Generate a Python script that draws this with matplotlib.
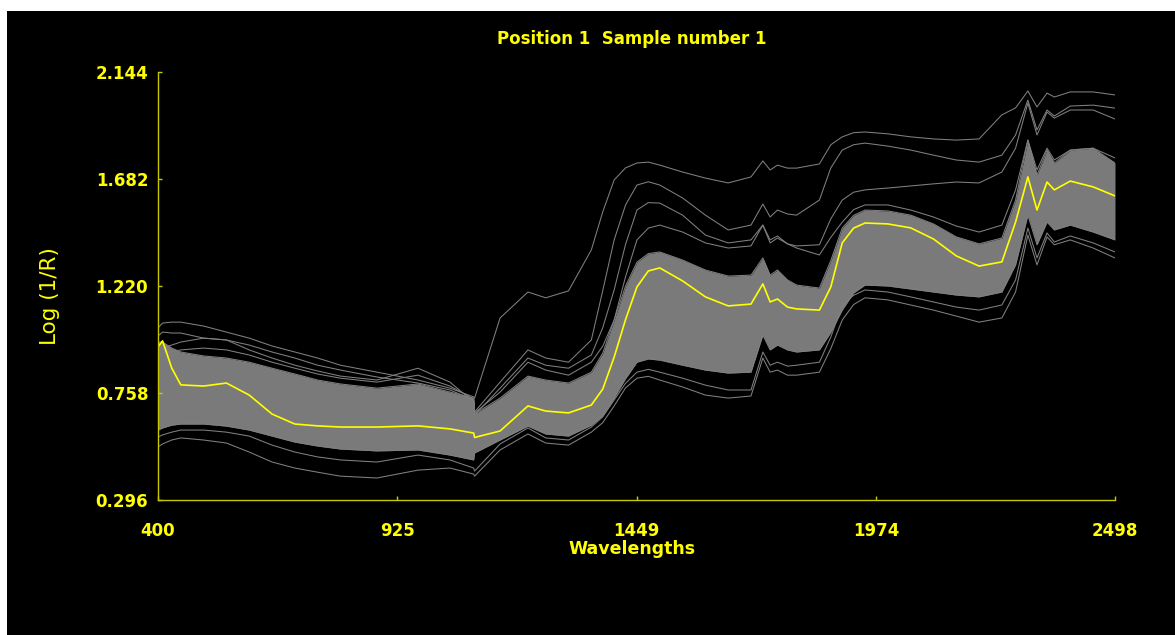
import numpy as np
import matplotlib
matplotlib.use("Agg")
import matplotlib.pyplot as plt
from matplotlib.patches import Rectangle

# wavelength grid (nm); the detector changes near 1093 nm, hence the 1092/1094 pair
wavelengths = [400, 410, 430, 450, 500, 550, 600, 650, 700, 750, 800, 880, 970, 1040, 1092,
               1094, 1150, 1211, 1250, 1300, 1350, 1375, 1400, 1425, 1450, 1475, 1500, 1550, 1600, 1650, 1700,
               1726, 1742, 1758, 1780, 1800, 1850, 1875, 1900, 1925, 1950, 2000, 2050, 2100, 2150, 2200,
               2250, 2280, 2307, 2327, 2349, 2365, 2400, 2450, 2498]

# highlighted spectrum (sample 1)
sample_1 = [0.957, 0.983, 0.866, 0.793, 0.788, 0.801, 0.749, 0.667, 0.624, 0.616, 0.611, 0.611, 0.616, 0.603, 0.585,
            0.566, 0.594, 0.702, 0.680, 0.672, 0.706, 0.775, 0.913, 1.075, 1.216, 1.285, 1.298, 1.242, 1.173, 1.134, 1.142,
            1.229, 1.151, 1.164, 1.129, 1.121, 1.116, 1.216, 1.406, 1.470, 1.492, 1.488, 1.471, 1.423, 1.350, 1.306,
            1.324, 1.496, 1.691, 1.548, 1.669, 1.635, 1.673, 1.648, 1.609]

# envelope of the dense bulk of the sample set
bulk_upper = [0.978, 0.978, 0.952, 0.935, 0.918, 0.909, 0.891, 0.865, 0.840, 0.814, 0.797, 0.779, 0.797, 0.762, 0.736,
              0.668, 0.736, 0.831, 0.814, 0.801, 0.848, 0.930, 1.073, 1.220, 1.323, 1.360, 1.367, 1.332, 1.289, 1.263, 1.267,
              1.341, 1.267, 1.289, 1.246, 1.224, 1.211, 1.330, 1.470, 1.525, 1.548, 1.544, 1.526, 1.488, 1.432, 1.402,
              1.427, 1.591, 1.850, 1.699, 1.807, 1.751, 1.807, 1.815, 1.751]
bulk_lower = [0.598, 0.607, 0.619, 0.624, 0.624, 0.615, 0.598, 0.572, 0.546, 0.529, 0.516, 0.508, 0.512, 0.490, 0.469,
              0.499, 0.555, 0.615, 0.581, 0.572, 0.619, 0.660, 0.737, 0.820, 0.891, 0.905, 0.900, 0.878, 0.857, 0.844, 0.848,
              1.008, 0.944, 0.965, 0.944, 0.935, 0.944, 1.020, 1.116, 1.190, 1.224, 1.220, 1.207, 1.194, 1.181, 1.173,
              1.194, 1.311, 1.526, 1.398, 1.496, 1.462, 1.483, 1.453, 1.419]

# spectra lying outside the bulk
outlier_a = [1.039, 1.060, 1.064, 1.064, 1.047, 1.021, 0.995, 0.961, 0.935, 0.909, 0.878, 0.848, 0.814, 0.779, 0.741,
             0.736, 1.082, 1.194, 1.169, 1.199, 1.376, 1.540, 1.678, 1.730, 1.751, 1.755, 1.742, 1.712, 1.686, 1.665, 1.691,
             1.760, 1.721, 1.742, 1.729, 1.729, 1.747, 1.830, 1.864, 1.882, 1.885, 1.877, 1.864, 1.855, 1.850, 1.855,
             1.959, 1.989, 2.062, 1.993, 2.053, 2.036, 2.058, 2.058, 2.045]
outlier_b = [1.004, 1.021, 1.017, 1.017, 0.995, 0.987, 0.965, 0.935, 0.909, 0.878, 0.857, 0.827, 0.801, 0.771, 0.728,
             0.676, 0.805, 0.944, 0.909, 0.891, 0.987, 1.200, 1.419, 1.570, 1.656, 1.670, 1.656, 1.600, 1.526, 1.462, 1.483,
             1.574, 1.518, 1.548, 1.531, 1.526, 1.591, 1.730, 1.807, 1.830, 1.837, 1.824, 1.807, 1.785, 1.764, 1.755,
             1.785, 1.872, 2.023, 1.894, 1.980, 1.954, 1.997, 2.001, 1.988]
outlier_c = [0.935, 0.952, 0.965, 0.978, 0.995, 0.987, 0.944, 0.909, 0.878, 0.853, 0.831, 0.814, 0.865, 0.805, 0.719,
             0.663, 0.779, 0.909, 0.878, 0.865, 0.922, 1.040, 1.203, 1.400, 1.548, 1.580, 1.578, 1.526, 1.440, 1.406, 1.419,
             1.483, 1.406, 1.427, 1.402, 1.393, 1.398, 1.510, 1.591, 1.625, 1.635, 1.643, 1.652, 1.661, 1.669, 1.665,
             1.712, 1.815, 2.010, 1.872, 1.971, 1.945, 1.980, 1.980, 1.941]
outlier_d = [0.922, 0.935, 0.935, 0.944, 0.952, 0.944, 0.922, 0.891, 0.865, 0.840, 0.822, 0.805, 0.835, 0.788, 0.732,
             0.672, 0.762, 0.891, 0.857, 0.835, 0.891, 0.960, 1.073, 1.260, 1.419, 1.470, 1.483, 1.453, 1.406, 1.384, 1.393,
             1.483, 1.419, 1.436, 1.402, 1.384, 1.354, 1.430, 1.496, 1.550, 1.570, 1.570, 1.548, 1.518, 1.479, 1.453,
             1.483, 1.635, 1.850, 1.721, 1.815, 1.764, 1.807, 1.815, 1.773]
outlier_e = [0.525, 0.538, 0.555, 0.564, 0.555, 0.542, 0.503, 0.460, 0.434, 0.416, 0.399, 0.391, 0.425, 0.434, 0.408,
             0.399, 0.512, 0.581, 0.542, 0.533, 0.589, 0.630, 0.702, 0.780, 0.822, 0.830, 0.814, 0.784, 0.749, 0.736, 0.745,
             0.909, 0.848, 0.857, 0.835, 0.835, 0.848, 0.950, 1.073, 1.140, 1.169, 1.160, 1.138, 1.116, 1.090, 1.064,
             1.082, 1.194, 1.440, 1.311, 1.432, 1.398, 1.419, 1.384, 1.341]
outlier_f = [0.568, 0.577, 0.589, 0.598, 0.598, 0.589, 0.572, 0.533, 0.503, 0.482, 0.469, 0.460, 0.490, 0.469, 0.434,
             0.421, 0.538, 0.607, 0.564, 0.555, 0.611, 0.655, 0.728, 0.800, 0.848, 0.860, 0.848, 0.822, 0.792, 0.771, 0.771,
             0.935, 0.878, 0.891, 0.874, 0.878, 0.891, 1.000, 1.138, 1.180, 1.203, 1.194, 1.173, 1.151, 1.129, 1.116,
             1.138, 1.246, 1.470, 1.341, 1.449, 1.410, 1.436, 1.406, 1.367]

x_ticks = [400, 925, 1449, 1974, 2498]
y_ticks = [0.296, 0.758, 1.220, 1.682, 2.144]

YELLOW = "#ffff00"
AXIS_YELLOW = "#c8c800"
GREY = "#808080"

fig = plt.figure(figsize=(11.75, 6.35), dpi=100, facecolor="black")
ax = fig.add_axes([158 / 1175, 1 - 500 / 635, 957 / 1175, 428 / 635])
ax.set_facecolor("black")

wl = np.array(wavelengths)
ax.fill_between(wl, bulk_lower, bulk_upper, color="#7a7a7a", lw=0)
for spec in (bulk_upper, bulk_lower, outlier_a, outlier_b, outlier_c, outlier_d, outlier_e, outlier_f):
    ax.plot(wl, spec, color=GREY, lw=0.75)
ax.plot(wl, sample_1, color=YELLOW, lw=1.2)

ax.set_xlim(400, 2498)
ax.set_ylim(0.296, 2.144)
ax.set_xticks(x_ticks)
ax.set_xticklabels([str(v) for v in x_ticks])
ax.set_yticks(y_ticks)
ax.set_yticklabels([f"{v:.3f}" for v in y_ticks])

for side in ("top", "right"):
    ax.spines[side].set_visible(False)
for side in ("left", "bottom"):
    ax.spines[side].set_color(AXIS_YELLOW)
    ax.spines[side].set_linewidth(1.0)

ax.tick_params(axis="both", direction="in", length=3, width=1, color=AXIS_YELLOW,
               labelcolor=YELLOW, labelsize=12)
ax.tick_params(axis="x", pad=16)
ax.tick_params(axis="y", pad=7)
for lab in ax.get_xticklabels() + ax.get_yticklabels():
    lab.set_fontweight("bold")

fig.text(632 / 1175, 1 - 39 / 635, "Position 1  Sample number 1", color=YELLOW,
         fontsize=12, fontweight="bold", ha="center", va="center")
fig.text(632 / 1175, 1 - 549 / 635, "Wavelengths", color=YELLOW,
         fontsize=12.5, fontweight="bold", ha="center", va="center")
fig.text(50 / 1175, 1 - 296 / 635, "Log (1/R)", color=YELLOW, fontsize=15.5,
         rotation=90, ha="center", va="center")

# white margins along the top and left edges
fig.add_artist(Rectangle((0, 1 - 11 / 635), 1, 11 / 635, transform=fig.transFigure,
                         color="white", lw=0))
fig.add_artist(Rectangle((0, 0), 7 / 1175, 1, transform=fig.transFigure,
                         color="white", lw=0))

fig.savefig("out.png", dpi=100, facecolor="black")
